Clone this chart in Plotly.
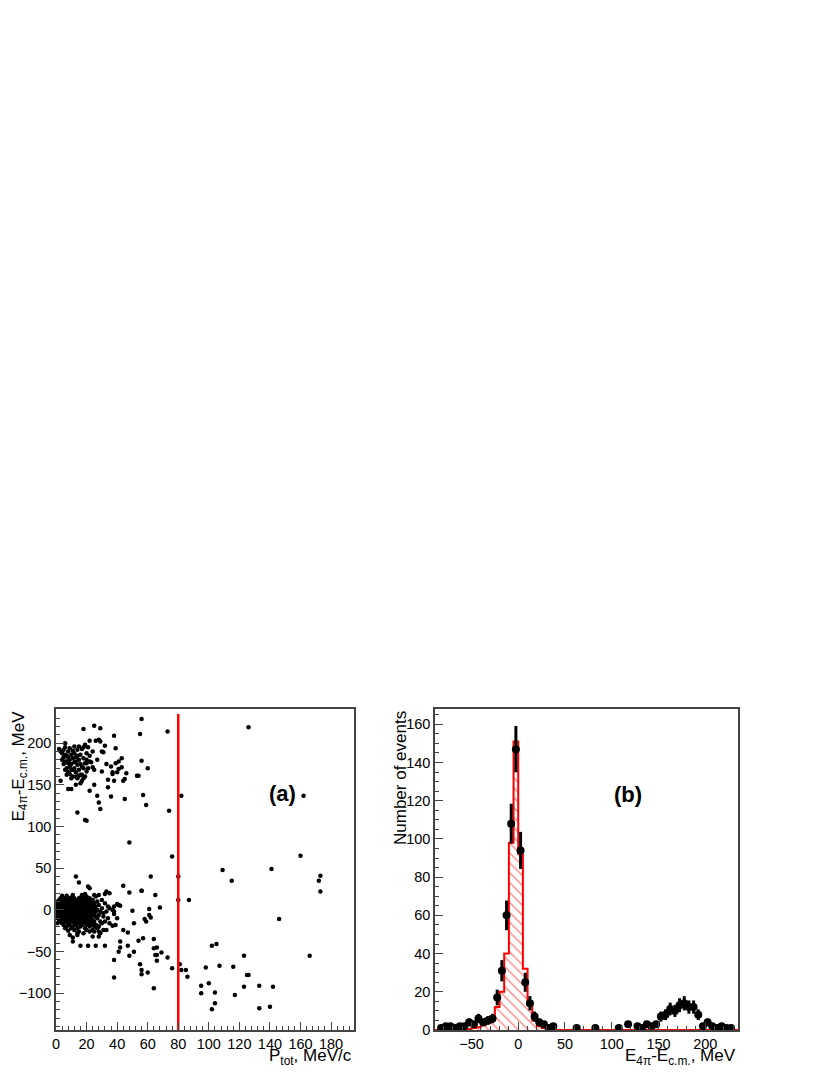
import numpy as np
import plotly.graph_objects as go

# ---- panel (a): E4pi - Ecm vs Ptot ----
# upper cluster (events with extra energy)
upper_p = [3, 4, 5, 5, 6, 6, 7, 7, 8, 8, 8, 9, 9, 10, 10, 10, 11, 11, 12, 12, 12, 13, 13, 14, 14, 14,
           15, 15, 16, 16, 16, 17, 17, 18, 18, 18, 19, 19, 20, 20, 5, 6, 7, 9, 11, 13, 15, 17, 4, 10,
           21, 22, 21, 12, 8, 6, 14, 16, 19, 3, 7, 9, 13, 15, 18, 20, 11, 10, 17, 6, 2, 22,
           18, 25, 29, 26, 28, 29, 30, 31, 22, 24, 20, 23, 24, 25, 25, 22, 27, 28, 29, 27, 30, 32,
           33, 34, 34, 36, 36, 37, 38, 38, 39, 40, 41, 41, 43, 43, 44, 45, 45, 46, 37, 39, 53, 54,
           55, 56, 56, 57, 59, 60, 14, 20, 8, 13, 19, 73, 74, 82, 126, 162]
upper_e = [155, 188, 192, 183, 178, 195, 170, 185, 176, 190, 165, 180, 172, 186, 168, 175, 182, 160,
           177, 188, 170, 165, 183, 174, 192, 158, 180, 168, 186, 162, 175, 193, 155, 170, 182, 195,
           160, 176, 188, 166, 175, 186, 162, 194, 191, 150, 196, 172, 180, 145, 195, 178, 170, 196,
           183, 168, 185, 152, 198, 190, 178, 163, 178, 161, 158, 176, 168, 158, 162, 200, 193, 185,
           217, 221, 218, 203, 204, 202, 190, 189, 203, 190, 180, 177, 171, 168, 150, 143, 137, 129,
           121, 180, 166, 197, 175, 156, 147, 136, 172, 163, 209, 155, 194, 165, 169, 178, 182, 171,
           155, 133, 157, 164, 165, 176, 161, 161, 211, 229, 179, 138, 126, 170, 117, 107, 145, 160,
           108, 214, 119, 137, 219, 137]

# dense core around zero: (E, list of Ptot)
core_rows = [
    (15, [4, 10, 16, 20]),
    (14, [3, 6, 9, 12, 15, 18, 22]),
    (12, [2, 5, 8, 11, 14, 17, 20, 24]),
    (11, [3, 9, 15, 21]),
    (10, [1, 4, 7, 10, 13, 16, 19, 23, 27]),
    (8, [2, 5, 8, 11, 14, 17, 21, 25]),
    (7, [4, 10, 16, 22]),
    (6, [1, 3, 6, 9, 12, 15, 18, 20, 24, 28]),
    (4, [2, 4, 7, 10, 13, 16, 19, 22, 26]),
    (3, [6, 12, 18, 24]),
    (2, [1, 3, 5, 8, 11, 14, 17, 20, 23, 25, 30]),
    (0, [1, 2, 4, 6, 9, 12, 15, 18, 21, 24, 27]),
    (-1, [3, 8, 14, 20]),
    (-2, [1, 3, 5, 7, 10, 13, 16, 19, 22, 26, 29]),
    (-4, [2, 4, 6, 8, 11, 14, 17, 20, 23, 25, 31]),
    (-5, [7, 13, 19, 24]),
    (-6, [1, 3, 5, 9, 12, 15, 18, 21, 24, 28]),
    (-8, [2, 4, 7, 10, 13, 16, 19, 22, 26]),
    (-9, [5, 11, 17, 23]),
    (-10, [1, 3, 6, 9, 12, 15, 18, 21, 23, 27]),
    (-12, [2, 5, 8, 11, 14, 17, 20, 24]),
    (-13, [9, 15, 21]),
    (-14, [3, 6, 10, 13, 16, 19, 22, 25, 29]),
    (-16, [4, 8, 12, 15, 18, 21, 24, 30]),
    (-18, [5, 9, 13, 17, 20, 23, 26]),
    (-20, [7, 11, 16, 22, 25, 28]),
    (-22, [10, 14, 19, 27]),
    (-24, [12, 20, 24, 31]),
    (-26, [15, 22]),
    (-28, [18, 29]),
]

# scattered events around the core and the tail
tail_p = [0, 0, 1, 32, 33, 34, 31, 30, 26, 11, 7, 4, 17, 20, 14, 8, 6, 28, 32, 35,
          13, 15, 21, 22, 25, 19, 33, 32, 35, 28, 38, 40, 42, 41, 37, 38, 38, 50, 51, 40, 34,
          35, 37, 39, 33, 27, 25, 28, 24, 9, 11, 11, 14, 16, 21, 26, 32, 42, 42, 41, 38, 38,
          44, 47, 48, 51, 54, 55, 56, 56, 60, 64, 57, 47, 56, 48, 44, 56, 48, 61, 61, 58, 59,
          62, 62, 65, 68, 64, 64, 66, 65, 66, 66, 69, 76, 80, 80, 87, 73, 76, 81, 82, 85, 86,
          109, 115, 141, 160, 173, 172, 173, 146, 166, 123, 105, 102, 107, 98, 116, 125, 126,
          95, 100, 95, 104, 104, 102, 117, 123, 133, 142, 133, 140]
tail_e = [8, -8, -16, 8, -2, 4, -8, 12, 16, 18, 17, 17, 18, 16, -30, -25, -22, -26, -14, 2,
          40, 33, 28, 26, 18, 19, 22, 19, 20, 18, 4, 7, 5, 6, 0, -2, -5, -1, -16, -10, -10,
          -16, -19, -18, -24, -19, -26, -32, -32, -30, -38, -33, -28, -43, -43, -43, -43, -38,
          -45, -50, -60, -81, -24, -27, -55, -50, -37, -65, -72, -77, -75, -94, -34, -43, 23,
          81, 29, 23, 21, 1, -6, -11, -14, 40, -9, 18, 3, -35, -46, -45, -54, -54, -61, -51,
          64, 40, 12, 12, -57, -70, -65, -72, -72, -80, 48, 35, 49, 65, 41, 35, 22, -11, -55,
          -55, -41, -43, -67, -69, -68, -78, -78, -91, -88, -100, -99, -112, -119, -102, -92,
          -91, -92, -118, -116]

cut_p = [80, 80]
cut_e = [-144, 235]

# ---- panel (b): E4pi - Ecm distribution ----
data_x = [-82.5, -77.5, -72.5, -67.5, -62.5, -57.5, -52.5, -47.5, -42.5, -37.5, -32.5, -27.5,
          -22.5, -17.5, -12.5, -7.5, -2.5, 2.5, 7.5, 12.5, 17.5, 22.5, 27.5, 32.5, 37.5,
          62.5, 82.5, 107.5, 117.5, 127.5, 132.5, 137.5, 142.5, 147.5, 152.5, 157.5, 162.5,
          167.5, 172.5, 177.5, 182.5, 187.5, 192.5, 197.5, 202.5, 207.5, 212.5, 217.5, 222.5, 227.5]
data_n = [1, 2, 2, 1, 2, 2, 4, 3, 6, 4, 5, 6,
          17, 31, 60, 108, 147, 94, 25, 14, 7, 4, 3, 1, 2,
          1, 1, 1, 3, 2, 1, 3, 2, 3, 7, 8, 11,
          10, 13, 14, 12, 12, 8, 2, 4, 2, 1, 2, 1, 1]

# simulation, 5 MeV bins from -90 to 235
mc_edges = list(range(-90, 240, 5))
mc_n = [0, 0, 0, 0, 0, 0, 0.3, 0.5, 1, 1.5, 2.5, 3.5, 5,
        12, 20, 40, 98, 151, 92, 32, 13, 5, 2, 1, 0.5, 0.2,
        0, 0, 0, 0, 0, 0, 0, 0, 0, 0, 0, 0, 0, 0, 0, 0, 0, 0, 0, 0,
        0, 0, 0, 0, 0, 0, 0, 0, 0, 0, 0, 0, 0, 0, 0, 0, 0, 0, 0]

core_p = [p for e, ps in core_rows for p in ps]
core_e = [e for e, ps in core_rows for p in ps]
all_p = upper_p + core_p + tail_p
all_e = upper_e + core_e + tail_e

FONT = "Liberation Sans, Arial, sans-serif"
W, H = 830, 1075
OFF = 8  # page body margin


def px(x):
    return (x - OFF) / W


def py(y):
    return (H - (y - OFF)) / H


fig = go.Figure()
fig.add_trace(go.Scatter(x=all_p, y=all_e, mode="markers",
                         marker=dict(color="black", size=4.5), xaxis="x", yaxis="y"))
fig.add_trace(go.Scatter(x=cut_p, y=cut_e, mode="lines",
                         line=dict(color="red", width=2.5), xaxis="x", yaxis="y"))

fig.add_trace(go.Scatter(x=mc_edges, y=mc_n + [mc_n[-1]], mode="lines", line_shape="hv",
                         line=dict(color="red", width=2), fill="tozeroy",
                         fillcolor="rgba(0,0,0,0)",
                         fillpattern=dict(shape="\\", fgcolor="red", bgcolor="rgba(0,0,0,0)",
                                          size=7, solidity=0.18),
                         xaxis="x2", yaxis="y2"))
fig.add_trace(go.Scatter(x=data_x, y=data_n, mode="markers",
                         marker=dict(color="black", size=8),
                         error_y=dict(type="data", array=list(np.sqrt(data_n)), color="black",
                                      thickness=3, width=0),
                         xaxis="x2", yaxis="y2"))

ax = dict(showline=True, mirror=True, linecolor="#444", linewidth=1.5, ticks="inside",
          ticklen=8, tickcolor="#444", tickwidth=1, showgrid=False, zeroline=False,
          automargin=False, tickfont=dict(family=FONT, size=14.5, color="black"))

fig.update_layout(
    width=W, height=H, showlegend=False, plot_bgcolor="white", paper_bgcolor="white",
    margin=dict(l=0, r=0, t=0, b=0),
    xaxis=dict(ax, domain=[px(56), px(354)], range=[0, 195], dtick=20,
               minor=dict(ticks="inside", ticklen=4, dtick=4, tickcolor="#444")),
    yaxis=dict(ax, domain=[py(1030), py(709)], range=[-144, 241], dtick=50,
               minor=dict(ticks="inside", ticklen=4, dtick=10, tickcolor="#444")),
    xaxis2=dict(ax, domain=[px(435), px(738)], range=[-89, 235], dtick=50, anchor="y2",
                minor=dict(ticks="inside", ticklen=4, dtick=10, tickcolor="#444")),
    yaxis2=dict(ax, domain=[py(1030), py(709)], range=[0, 168], dtick=20, anchor="x2",
                minor=dict(ticks="inside", ticklen=4, dtick=5, tickcolor="#444")),
)

title_font = dict(family=FONT, size=17, color="black")
fig.add_annotation(text="P<sub>tot</sub>, MeV/c", xref="paper", yref="paper",
                   x=px(354), y=py(1057), xanchor="right", yanchor="middle",
                   showarrow=False, font=title_font)
fig.add_annotation(text="E<sub>4π</sub>-E<sub>c.m.</sub>, MeV", xref="paper", yref="paper",
                   x=px(19), y=py(709), xanchor="center", yanchor="top",
                   textangle=-90, showarrow=False, font=title_font)
fig.add_annotation(text="E<sub>4π</sub>-E<sub>c.m.</sub>, MeV", xref="paper", yref="paper",
                   x=px(738), y=py(1057), xanchor="right", yanchor="middle",
                   showarrow=False, font=title_font)
fig.add_annotation(text="Number of events", xref="paper", yref="paper",
                   x=px(400), y=py(709), xanchor="center", yanchor="top",
                   textangle=-90, showarrow=False, font=title_font)
fig.add_annotation(text="<b>(a)</b>", xref="x", yref="y", x=148, y=140, showarrow=False,
                   font=dict(family=FONT, size=22, color="black"))
fig.add_annotation(text="<b>(b)</b>", xref="x2", yref="y2", x=117, y=123, showarrow=False,
                   font=dict(family=FONT, size=22, color="black"))

fig.write_html("out.html")
